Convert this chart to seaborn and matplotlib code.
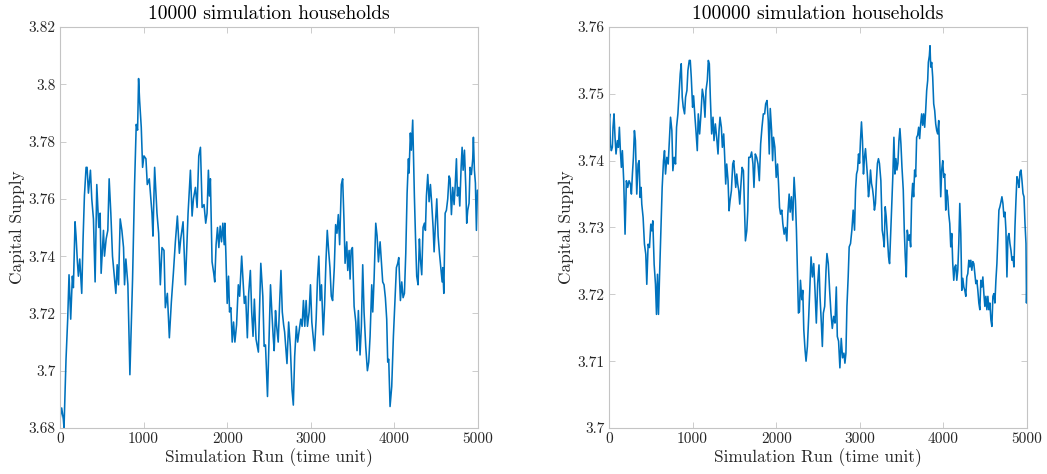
import matplotlib
matplotlib.use("Agg")
import matplotlib.pyplot as plt
import seaborn as sns
import pandas as pd
from matplotlib.ticker import FuncFormatter, MultipleLocator

# ---- data: 10000 simulation households ----
t_10k = [0, 20, 40, 48, 72, 92, 108, 128, 148, 160, 180, 192, 208, 220, 236, 260, 276, 292, 312, 324, 340, 364,
         380, 400, 420, 440, 464, 480, 492, 520, 532, 552, 572, 588, 608, 628, 652, 668, 684, 700, 720, 740, 760,
         772, 788, 812, 836, 868, 892, 912, 928, 940, 952, 972, 988, 1004, 1028, 1044, 1068, 1100, 1112, 1132,
         1160, 1180, 1200, 1220, 1244, 1260, 1284, 1308, 1332, 1356, 1380, 1404, 1428, 1444, 1472, 1500, 1532,
         1560, 1580, 1596, 1620, 1640, 1660, 1680, 1700, 1723, 1743, 1759, 1775, 1787, 1799, 1819, 1839, 1851,
         1867, 1884, 1900, 1916, 1932, 1948, 1964, 1972, 1984, 2000, 2016, 2028, 2044, 2060, 2076, 2092, 2112,
         2133, 2149, 2173, 2185, 2205, 2221, 2241, 2257, 2277, 2293, 2309, 2325, 2345, 2373, 2402, 2426, 2442,
         2458, 2482, 2502, 2518, 2534, 2550, 2562, 2578, 2590, 2610, 2627, 2643, 2659, 2675, 2687, 2715, 2735,
         2755, 2775, 2791, 2807, 2827, 2843, 2863, 2880, 2896, 2912, 2928, 2944, 2960, 2980, 2996, 3012, 3028,
         3044, 3064, 3080, 3096, 3112, 3128, 3149, 3165, 3181, 3197, 3213, 3229, 3245, 3261, 3281, 3297, 3313,
         3329, 3345, 3365, 3381, 3398, 3410, 3430, 3442, 3458, 3470, 3482, 3498, 3518, 3538, 3553, 3569, 3589,
         3605, 3621, 3637, 3657, 3677, 3693, 3709, 3729, 3741, 3757, 3777, 3793, 3809, 3829, 3844, 3860, 3876,
         3892, 3908, 3920, 3932, 3948, 3968, 3988, 4008, 4024, 4040, 4052, 4072, 4088, 4104, 4120, 4136, 4152,
         4168, 4175, 4191, 4203, 4219, 4239, 4255, 4267, 4283, 4299, 4311, 4327, 4343, 4359, 4371, 4383, 4399,
         4415, 4431, 4447, 4463, 4475, 4491, 4507, 4523, 4539, 4555, 4571, 4579, 4591, 4607, 4622, 4638, 4654,
         4666, 4682, 4698, 4714, 4726, 4742, 4754, 4770, 4782, 4798, 4810, 4822, 4838, 4854, 4865, 4877, 4893,
         4905, 4921, 4937, 4945, 4957, 4969, 4981, 4993, 5000]
v_10k = [3.683, 3.687, 3.683, 3.680, 3.704, 3.718, 3.7335, 3.718, 3.733, 3.729, 3.752, 3.747, 3.738, 3.733, 3.739,
         3.727, 3.746, 3.761, 3.771, 3.771, 3.762, 3.770, 3.760, 3.753, 3.731, 3.765, 3.750, 3.755, 3.734, 3.749,
         3.740, 3.746, 3.749, 3.767, 3.755, 3.740, 3.732, 3.727, 3.737, 3.730, 3.753, 3.749, 3.743, 3.730, 3.739,
         3.730, 3.6986, 3.732, 3.765, 3.786, 3.784, 3.802, 3.7945, 3.785, 3.771, 3.775, 3.774, 3.765, 3.767,
         3.755, 3.747, 3.771, 3.755, 3.748, 3.730, 3.743, 3.742, 3.722, 3.727, 3.7115, 3.724, 3.734, 3.745,
         3.754, 3.741, 3.746, 3.752, 3.730, 3.755, 3.770, 3.754, 3.760, 3.764, 3.757, 3.775, 3.778, 3.757,
         3.758, 3.7515, 3.755, 3.770, 3.761, 3.767, 3.738, 3.734, 3.731, 3.744, 3.750, 3.743, 3.7505, 3.745,
         3.7515, 3.744, 3.7515, 3.741, 3.7235, 3.733, 3.7205, 3.722, 3.710, 3.717, 3.710, 3.716, 3.730, 3.726,
         3.740, 3.734, 3.7235, 3.726, 3.7115, 3.727, 3.735, 3.7205, 3.712, 3.725, 3.711, 3.7065, 3.7375, 3.726,
         3.7085, 3.709, 3.691, 3.712, 3.730, 3.7205, 3.712, 3.707, 3.721, 3.716, 3.710, 3.7235, 3.735, 3.7205,
         3.716, 3.7135, 3.7025, 3.717, 3.7085, 3.6935, 3.688, 3.705, 3.7155, 3.710, 3.7145, 3.718, 3.7155,
         3.7245, 3.7155, 3.7245, 3.7155, 3.7205, 3.730, 3.717, 3.712, 3.707, 3.718, 3.732, 3.740, 3.7245,
         3.730, 3.7125, 3.723, 3.738, 3.749, 3.742, 3.736, 3.726, 3.7245, 3.736, 3.751, 3.748, 3.7545, 3.744,
         3.765, 3.767, 3.7515, 3.7375, 3.745, 3.735, 3.742, 3.732, 3.742, 3.743, 3.7225, 3.717, 3.707, 3.721,
         3.7055, 3.7155, 3.737, 3.7205, 3.7085, 3.700, 3.703, 3.712, 3.730, 3.7205, 3.732, 3.7515, 3.747,
         3.738, 3.745, 3.7385, 3.731, 3.730, 3.7255, 3.718, 3.703, 3.704, 3.6875, 3.6945, 3.712, 3.7255, 3.736,
         3.7375, 3.7395, 3.7245, 3.731, 3.7255, 3.727, 3.741, 3.762, 3.774, 3.769, 3.783, 3.777, 3.7875, 3.761,
         3.744, 3.733, 3.730, 3.746, 3.739, 3.7335, 3.750, 3.7515, 3.749, 3.761, 3.7685, 3.759, 3.765, 3.758,
         3.750, 3.7415, 3.7515, 3.760, 3.747, 3.741, 3.736, 3.731, 3.736, 3.727, 3.755, 3.756, 3.760, 3.768,
         3.767, 3.7545, 3.764, 3.758, 3.764, 3.774, 3.761, 3.764, 3.7575, 3.771, 3.778, 3.770, 3.777, 3.764,
         3.7515, 3.756, 3.7585, 3.771, 3.7685, 3.774, 3.7815, 3.770, 3.7655, 3.749, 3.763, 3.763]

# ---- data: 100000 simulation households ----
t_100k = [0, 8, 16, 28, 40, 48, 60, 72, 84, 100, 112, 124, 136, 148, 160, 176, 192, 208, 224, 240, 256, 268, 280,
          292, 304, 316, 332, 348, 360, 372, 384, 392, 408, 424, 440, 452, 468, 484, 500, 512, 524, 540, 556, 568,
          580, 592, 604, 620, 636, 652, 664, 676, 692, 708, 724, 736, 752, 764, 780, 796, 808, 824, 840, 852, 864,
          876, 888, 904, 916, 932, 944, 960, 972, 984, 1000, 1012, 1028, 1040, 1056, 1068, 1084, 1100, 1116,
          1132, 1148, 1160, 1176, 1188, 1200, 1212, 1228, 1244, 1256, 1272, 1288, 1304, 1316, 1328, 1344, 1356,
          1372, 1384, 1396, 1408, 1424, 1436, 1448, 1464, 1480, 1492, 1504, 1516, 1528, 1540, 1552, 1564, 1576,
          1592, 1608, 1620, 1632, 1648, 1660, 1672, 1690, 1706, 1722, 1734, 1750, 1766, 1782, 1798, 1814, 1830,
          1846, 1862, 1874, 1890, 1905, 1917, 1929, 1945, 1957, 1968, 1984, 2000, 2016, 2028, 2040, 2052, 2067,
          2079, 2095, 2111, 2127, 2139, 2155, 2167, 2182, 2198, 2214, 2230, 2242, 2254, 2266, 2278, 2290, 2306,
          2318, 2330, 2345, 2357, 2373, 2389, 2405, 2417, 2433, 2449, 2464, 2480, 2496, 2512, 2524, 2540, 2552,
          2564, 2580, 2596, 2607, 2623, 2639, 2655, 2671, 2687, 2703, 2719, 2731, 2746, 2762, 2778, 2794, 2810,
          2822, 2834, 2846, 2861, 2873, 2889, 2905, 2921, 2937, 2949, 2961, 2973, 2985, 2997, 3008, 3020, 3032,
          3044, 3056, 3068, 3080, 3092, 3104, 3116, 3128, 3140, 3152, 3163, 3175, 3187, 3199, 3211, 3223, 3235,
          3252, 3268, 3280, 3292, 3304, 3316, 3328, 3344, 3356, 3368, 3384, 3396, 3408, 3420, 3432, 3444, 3456,
          3468, 3480, 3492, 3504, 3520, 3532, 3544, 3556, 3568, 3584, 3596, 3608, 3620, 3632, 3644, 3656, 3668,
          3680, 3692, 3704, 3716, 3728, 3740, 3752, 3764, 3776, 3788, 3800, 3812, 3820, 3832, 3840, 3848, 3860,
          3872, 3884, 3896, 3908, 3920, 3932, 3944, 3956, 3968, 3980, 3992, 4004, 4016, 4028, 4040, 4052, 4064,
          4076, 4088, 4100, 4112, 4124, 4136, 4148, 4160, 4172, 4184, 4196, 4208, 4220, 4232, 4244, 4256, 4268,
          4280, 4292, 4304, 4316, 4328, 4340, 4352, 4364, 4376, 4388, 4400, 4412, 4424, 4436, 4448, 4460, 4472,
          4484, 4496, 4508, 4520, 4532, 4544, 4556, 4568, 4580, 4592, 4604, 4616, 4628, 4640, 4652, 4664, 4676,
          4688, 4700, 4712, 4724, 4736, 4748, 4760, 4772, 4784, 4796, 4808, 4820, 4832, 4844, 4856, 4868, 4880,
          4892, 4904, 4916, 4928, 4940, 4952, 4964, 4976, 4988, 4994, 5000]
v_100k = [3.746, 3.747, 3.7425, 3.7415, 3.742, 3.745, 3.747, 3.7435, 3.741, 3.743, 3.742, 3.745, 3.7415, 3.739,
          3.7415, 3.737, 3.729, 3.737, 3.736, 3.737, 3.7365, 3.735, 3.738, 3.7405, 3.7445, 3.743, 3.735, 3.7395,
          3.740, 3.7345, 3.736, 3.7335, 3.7315, 3.7275, 3.726, 3.7215, 3.7275, 3.727, 3.7305, 3.7295, 3.731,
          3.7245, 3.7215, 3.717, 3.723, 3.717, 3.7225, 3.729, 3.736, 3.740, 3.7415, 3.738, 3.7405, 3.7395,
          3.7435, 3.7465, 3.7445, 3.7385, 3.7405, 3.7395, 3.745, 3.747, 3.7505, 3.753, 3.7545, 3.7495, 3.748,
          3.747, 3.7495, 3.7505, 3.7535, 3.755, 3.755, 3.7525, 3.748, 3.7497, 3.7465, 3.7445, 3.7415, 3.747,
          3.744, 3.747, 3.7507, 3.7495, 3.7465, 3.7505, 3.752, 3.755, 3.7545, 3.7495, 3.744, 3.7465, 3.743,
          3.7455, 3.7435, 3.741, 3.7445, 3.7465, 3.745, 3.742, 3.744, 3.7405, 3.7365, 3.7395, 3.737, 3.7325,
          3.734, 3.7355, 3.7395, 3.740, 3.738, 3.736, 3.738, 3.7365, 3.7355, 3.7335, 3.736, 3.739, 3.7385,
          3.7335, 3.728, 3.7295, 3.7325, 3.7405, 3.7405, 3.7413, 3.7395, 3.736, 3.741, 3.7405, 3.7395, 3.737,
          3.7425, 3.745, 3.747, 3.747, 3.7485, 3.749, 3.746, 3.741, 3.7478, 3.7445, 3.740, 3.7435, 3.742,
          3.7375, 3.7395, 3.7365, 3.733, 3.732, 3.7326, 3.7306, 3.729, 3.730, 3.728, 3.732, 3.735, 3.7323,
          3.7346, 3.7311, 3.7375, 3.734, 3.7296, 3.7236, 3.7172, 3.7174, 3.7221, 3.7192, 3.7206, 3.7147,
          3.7117, 3.710, 3.7122, 3.7167, 3.7216, 3.7256, 3.7226, 3.7246, 3.7206, 3.7157, 3.7216, 3.7244,
          3.7197, 3.7157, 3.7122, 3.7172, 3.7182, 3.7236, 3.7261, 3.7246, 3.7206, 3.7172, 3.7149, 3.7167,
          3.7157, 3.7211, 3.7137, 3.713, 3.709, 3.7134, 3.7105, 3.7112, 3.7097, 3.7112, 3.7182, 3.7226,
          3.7271, 3.7276, 3.7296, 3.7326, 3.7296, 3.7356, 3.738, 3.7386, 3.741, 3.7396, 3.743, 3.7458, 3.743,
          3.738, 3.7405, 3.7418, 3.7396, 3.7376, 3.7346, 3.736, 3.7386, 3.7366, 3.7358, 3.7346, 3.7326,
          3.7336, 3.737, 3.7396, 3.7403, 3.7396, 3.737, 3.7296, 3.7286, 3.7271, 3.7331, 3.7316, 3.7291,
          3.7256, 3.7246, 3.7286, 3.7336, 3.738, 3.7435, 3.738, 3.7403, 3.7386, 3.7396, 3.743, 3.7448, 3.7425,
          3.7391, 3.7356, 3.7296, 3.7256, 3.7226, 3.7296, 3.7281, 3.7289, 3.7271, 3.7341, 3.7366, 3.7346,
          3.7386, 3.7376, 3.7435, 3.7438, 3.745, 3.7433, 3.7455, 3.747, 3.7453, 3.747, 3.745, 3.7475, 3.7505,
          3.752, 3.7547, 3.7557, 3.7572, 3.754, 3.7547, 3.7525, 3.7485, 3.7475, 3.7455, 3.7445, 3.744, 3.746,
          3.7405, 3.7346, 3.7386, 3.740, 3.7375, 3.738, 3.7326, 3.7356, 3.7346, 3.732, 3.7306, 3.7271, 3.7291,
          3.7246, 3.7221, 3.7241, 3.7244, 3.7221, 3.7236, 3.7276, 3.7336, 3.7291, 3.7206, 3.7224, 3.7211,
          3.7206, 3.7197, 3.7226, 3.7231, 3.7251, 3.7241, 3.7251, 3.7236, 3.7249, 3.7246, 3.7231, 3.7216,
          3.7221, 3.7206, 3.7187, 3.7177, 3.7221, 3.7211, 3.7226, 3.7201, 3.7182, 3.7197, 3.7177, 3.7197,
          3.7177, 3.7187, 3.7162, 3.7152, 3.7197, 3.7201, 3.7187, 3.7221, 3.7246, 3.7286, 3.7326, 3.7331,
          3.7338, 3.7346, 3.7336, 3.7316, 3.7323, 3.7296, 3.7226, 3.7286, 3.7291, 3.7276, 3.7266, 3.7251,
          3.7256, 3.7241, 3.7301, 3.7341, 3.7376, 3.737, 3.736, 3.7383, 3.7386, 3.737, 3.7351, 3.7346, 3.7306,
          3.7276, 3.7187, 3.7220]

titles = ["10000 simulation households", "100000 simulation households"]
x_label = "Simulation Run (time unit)"
y_label = "Capital Supply"
x_ticks = [0, 1000, 2000, 3000, 4000, 5000]
y_limits = [(3.68, 3.82), (3.70, 3.76)]
y_steps = [0.02, 0.01]

sns.set_theme(style="white")
plt.rcParams["font.family"] = ["cmr10", "DejaVu Serif"]
plt.rcParams["axes.formatter.use_mathtext"] = True
plt.rcParams["axes.unicode_minus"] = False

LINE = "#0072BD"
SPINE = "#c4c4c4"
TEXT = "#262626"

fig = plt.figure(figsize=(10.47, 4.74), dpi=100)
W, H = 1047, 474
boxes = [(60, 27, 478, 428), (609, 27, 1027, 428)]

series = [(t_10k, v_10k), (t_100k, v_100k)]


def fmt(v, pos):
    s = f"{v:.2f}".rstrip("0").rstrip(".")
    return s


for i, ((x0, y0, x1, y1), (tt, vv)) in enumerate(zip(boxes, series)):
    ax = fig.add_axes([x0 / W, 1 - y1 / H, (x1 - x0) / W, (y1 - y0) / H])
    df = pd.DataFrame({"t": tt, "v": vv})
    sns.lineplot(data=df, x="t", y="v", ax=ax, color=LINE, linewidth=1.15, estimator=None, sort=False)
    ax.set_xlim(0, 5000)
    ax.set_ylim(*y_limits[i])
    ax.set_xticks(x_ticks)
    ax.yaxis.set_major_locator(MultipleLocator(y_steps[i]))
    ax.yaxis.set_major_formatter(FuncFormatter(fmt))
    ax.xaxis.set_major_formatter(FuncFormatter(lambda v, p: f"{int(round(v))}"))
    for sp in ax.spines.values():
        sp.set_visible(True)
        sp.set_color(SPINE)
        sp.set_linewidth(0.8)
    ax.tick_params(direction="in", length=4, width=0.6, color=SPINE, labelcolor=TEXT,
                   labelsize=11, top=True, right=True, bottom=True, left=True, pad=3)
    ax.set_xlabel(x_label, fontsize=12.4, color=TEXT, labelpad=2)
    ax.set_ylabel(y_label, fontsize=12.4, color=TEXT, labelpad=3)
    ax.set_title(titles[i], fontsize=14, color="black", pad=6)
    ax.grid(False)

fig.savefig("out.png", dpi=100, facecolor="white")
